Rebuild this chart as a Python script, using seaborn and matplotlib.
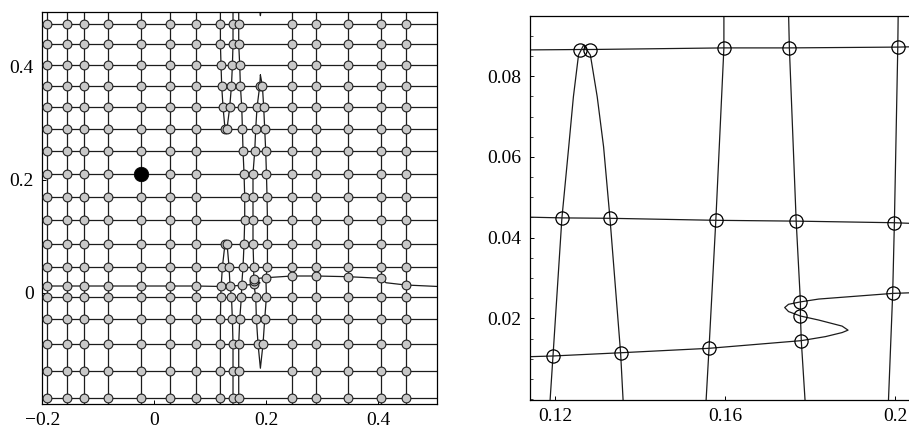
import matplotlib
matplotlib.use("Agg")
import matplotlib.pyplot as plt
import matplotlib.ticker as mticker
import numpy as np
import pandas as pd
import seaborn as sns

# ---------------- data : left panel (full mesh) ----------------
row_y = [0.4747, 0.4393, 0.4021, 0.3655, 0.3278, 0.2899, 0.2504, 0.2103, 0.1690,
         0.1278, 0.0864, 0.0457, 0.0115, -0.0074, -0.0474, -0.0912, -0.1389, -0.1873]
col_x_left = [-0.1914, -0.1550, -0.1259, -0.0825, -0.0229, 0.0289, 0.0741]
col_x_right = [0.2461, 0.2896, 0.3461, 0.4057, 0.4491]

# folded columns A..E: x position at each row (None = absent, row 12 taken from fold)
col_A = [0.1182, 0.1182, 0.1193, 0.1205, 0.1229, 0.1264, None, None, None, None,
         0.1264, 0.1218, None, 0.1188, 0.1182, 0.1182, 0.1182, 0.1182]
col_B = [0.1407, 0.1407, 0.1396, 0.1379, 0.1348, 0.1300, None, None, None, None,
         0.1300, 0.1336, None, 0.1379, 0.1396, 0.1407, 0.1407, 0.1407]
col_C = [0.1509, 0.1509, 0.1527, 0.1539, 0.1563, 0.1575, 0.1586, 0.1604, 0.1616,
         0.1616, 0.1604, 0.1586, None, 0.1557, 0.1527, 0.1509, 0.1509, 0.1509]
col_D = [None, None, None, 0.1884, 0.1836, 0.1813, 0.1795, 0.1764, 0.1764, 0.1764,
         0.1764, 0.1777, None, 0.1813, 0.1825, 0.1854, None, None]
col_E = [None, None, None, 0.1932, 0.1955, 0.1973, 0.1991, 0.2004, 0.2015, 0.2022,
         0.2022, 0.2022, None, 0.2004, 0.1973, 0.1943, None, None]
tip_AB_upper = (0.1282, 0.2858)
tip_AB_lower = (0.1282, 0.0899)
tip_DE_upper = (0.1896, 0.3850)
tip_DE_lower = (0.1896, -0.1340)
notch_x = [0.1885, 0.1896, 0.1907]
notch_y = [0.4990, 0.4900, 0.4990]

# folded row (row 12)
row12_left_y = 0.0115
row12_right_y = [0.0292, 0.0292, 0.0280, 0.0251, 0.0133]
row12_bend = (0.4140, 0.0173)
row12_edge_right_y = 0.0103
fold_x = [0.1195, 0.1354, 0.1562, 0.1779, 0.1836, 0.1875, 0.1889, 0.1875, 0.1820,
          0.1777, 0.1749, 0.1740, 0.1749, 0.1777, 0.1820, 0.1994]
fold_y = [0.0107, 0.0115, 0.0126, 0.0145, 0.0155, 0.0165, 0.0171, 0.0181, 0.0196,
          0.0206, 0.0217, 0.0227, 0.0235, 0.0241, 0.0248, 0.0262]
fold_node = [1, 1, 1, 1, 0, 0, 0, 0, 0, 1, 0, 0, 0, 1, 0, 1]
fold_col_nodes = {"A": [0], "B": [1], "C": [2], "D": [13, 9, 3], "E": [15]}

highlight = (-0.0229, 0.2103)

# ---------------- data : right panel (zoom) ----------------
zr_top_x = [0.1258, 0.1281, 0.1597, 0.1751, 0.2006]
zr_top_y = [0.0866, 0.0866, 0.0870, 0.0870, 0.0872]
zr_top_edge_y = (0.0865, 0.0873)
zr_mid_x = [0.1216, 0.1329, 0.1578, 0.1767, 0.1998]
zr_mid_y = [0.0449, 0.0448, 0.0443, 0.0441, 0.0437]
zr_mid_edge_y = (0.0451, 0.0435)
zr_low_edge_y = (0.0105, 0.0264)
zr_A_x = [0.1188, 0.1195, 0.1216, 0.1232, 0.1243, 0.1255, 0.1267]
zr_A_y = [-0.0005, 0.0107, 0.0449, 0.0625, 0.0749, 0.0852, 0.0877]
zr_B_x = [0.1267, 0.1283, 0.1299, 0.1314, 0.1329, 0.1354, 0.1360]
zr_B_y = [0.0877, 0.0852, 0.0749, 0.0625, 0.0448, 0.0115, -0.0005]
zr_C_x = [0.1597, 0.1597, 0.1578, 0.1562, 0.1555]
zr_C_y = [0.0960, 0.0870, 0.0443, 0.0126, -0.0005]
zr_D_x = [0.1749, 0.1751, 0.1767, 0.1777, 0.1777, 0.1779, 0.1788]
zr_D_y = [0.0960, 0.0870, 0.0441, 0.0241, 0.0206, 0.0145, -0.0005]
zr_E_x = [0.2007, 0.2006, 0.1998, 0.1994, 0.1984]
zr_E_y = [0.0960, 0.0872, 0.0437, 0.0262, -0.0005]

XL = (-0.2, 0.5045)
YL = (-0.1973, 0.4965)
XR = (0.1141, 0.2039)
YR = (-0.0002, 0.0949)

# ---------------- style ----------------
sns.set_theme(style="white")
plt.rcParams["font.family"] = ["Liberation Serif", "DejaVu Serif"]
plt.rcParams["axes.unicode_minus"] = True
LC = "#1c1c1c"

fig = plt.figure(figsize=(9.09, 4.29), dpi=100)
axL = fig.add_axes([0.0465, 0.0583, 0.4339, 0.9138])
axR = fig.add_axes([0.5831, 0.0676, 0.4200, 0.8951])

# ---------------- build left mesh ----------------
segs = []
nodes = []
mid_cols = {"A": col_A, "B": col_B, "C": col_C, "D": col_D, "E": col_E}


def add_seg(xs, ys):
    sid = len(segs)
    segs.append(pd.DataFrame({"x": xs, "y": ys, "seg": sid}))


# regular columns
for j, cx in enumerate(col_x_left + col_x_right):
    ys = [YL[1] + 0.01]
    xs = [cx]
    for i, ry in enumerate(row_y):
        yy = ry
        if i == 12:
            if cx in col_x_right:
                yy = row12_right_y[col_x_right.index(cx)]
            else:
                yy = row12_left_y
        xs.append(cx)
        ys.append(yy)
        nodes.append((cx, yy))
    xs.append(cx)
    ys.append(YL[0] - 0.01)
    add_seg(xs, ys)


def col_points(name, rows):
    pts = []
    arr = mid_cols[name]
    for i in rows:
        if i == 12:
            for k in fold_col_nodes[name]:
                pts.append((fold_x[k], fold_y[k]))
        elif arr[i] is not None:
            pts.append((arr[i], row_y[i]))
    return pts


# A/B upper loop
pa = col_points("A", range(0, 6))
pb = col_points("B", range(0, 6))
pts = [(pa[0][0], YL[1] + 0.01)] + pa + [tip_AB_upper] + pb[::-1] + [(pb[0][0], YL[1] + 0.01)]
add_seg([p[0] for p in pts], [p[1] for p in pts])
# A/B lower loop
pa = col_points("A", range(10, 18))
pb = col_points("B", range(10, 18))
pts = [(pa[-1][0], YL[0] - 0.01)] + pa[::-1] + [tip_AB_lower] + pb + [(pb[-1][0], YL[0] - 0.01)]
add_seg([p[0] for p in pts], [p[1] for p in pts])
# C full column
pc = col_points("C", range(18))
pts = [(pc[0][0], YL[1] + 0.01)] + pc + [(pc[-1][0], YL[0] - 0.01)]
add_seg([p[0] for p in pts], [p[1] for p in pts])
# D/E closed loop
pdd = col_points("D", range(18))
pe = col_points("E", range(18))
pts = [tip_DE_upper] + pdd + [tip_DE_lower] + pe[::-1] + [tip_DE_upper]
add_seg([p[0] for p in pts], [p[1] for p in pts])
add_seg(notch_x, notch_y)

for name in mid_cols:
    for p in col_points(name, [i for i in range(18) if i != 12]):
        nodes.append(p)
for k, f in enumerate(fold_node):
    if f:
        nodes.append((fold_x[k], fold_y[k]))

# rows
for i, ry in enumerate(row_y):
    if i == 12:
        xs = [XL[0] - 0.01] + col_x_left + fold_x + col_x_right[:4] + [row12_bend[0], col_x_right[4], XL[1] + 0.01]
        ys = ([row12_left_y] * (len(col_x_left) + 1) + fold_y + row12_right_y[:4]
              + [row12_bend[1], row12_right_y[4], row12_edge_right_y])
        add_seg(xs, ys)
        continue
    xs = list(col_x_left) + list(col_x_right)
    for arr in mid_cols.values():
        if arr[i] is not None:
            xs.append(arr[i])
    xs = sorted(xs)
    xs = [XL[0] - 0.01] + xs + [XL[1] + 0.01]
    add_seg(xs, [ry] * len(xs))

mesh = pd.concat(segs, ignore_index=True)
node_df = pd.DataFrame(nodes, columns=["x", "y"])

sns.lineplot(data=mesh, x="x", y="y", units="seg", estimator=None, sort=False,
             color=LC, lw=0.9, ax=axL, legend=False)
sns.scatterplot(data=node_df, x="x", y="y", s=40, color="#c8c8c8",
                edgecolor="#222222", linewidth=0.8, ax=axL, zorder=3, legend=False)
sns.scatterplot(x=[highlight[0]], y=[highlight[1]], s=110, color="black",
                edgecolor="black", linewidth=0.5, ax=axL, zorder=4, legend=False)

# ---------------- right panel ----------------
rsegs = []


def add_rseg(xs, ys):
    rsegs.append(pd.DataFrame({"x": xs, "y": ys, "seg": len(rsegs)}))


add_rseg([XR[0] - 0.001] + zr_top_x + [XR[1] + 0.001], [zr_top_edge_y[0]] + zr_top_y + [zr_top_edge_y[1]])
add_rseg([XR[0] - 0.001] + zr_mid_x + [XR[1] + 0.001], [zr_mid_edge_y[0]] + zr_mid_y + [zr_mid_edge_y[1]])
add_rseg([XR[0] - 0.001] + fold_x + [XR[1] + 0.001], [zr_low_edge_y[0]] + fold_y + [zr_low_edge_y[1]])
add_rseg(zr_A_x + zr_B_x[1:], zr_A_y + zr_B_y[1:])
add_rseg(zr_C_x, zr_C_y)
add_rseg(zr_D_x, zr_D_y)
add_rseg(zr_E_x, zr_E_y)
rmesh = pd.concat(rsegs, ignore_index=True)

rnodes = pd.DataFrame({
    "x": zr_top_x + zr_mid_x + [fold_x[k] for k, f in enumerate(fold_node) if f],
    "y": zr_top_y + zr_mid_y + [fold_y[k] for k, f in enumerate(fold_node) if f],
})

sns.lineplot(data=rmesh, x="x", y="y", units="seg", estimator=None, sort=False,
             color=LC, lw=0.9, ax=axR, legend=False)
axR.plot(rnodes["x"], rnodes["y"], linestyle="none", marker="o", ms=9.5,
         mfc="none", mec="black", mew=0.9, zorder=3)

# ---------------- axes styling ----------------
for ax in (axL, axR):
    ax.set_xlabel("")
    ax.set_ylabel("")
    ax.grid(False)
    for s in ax.spines.values():
        s.set_color("black")
        s.set_linewidth(0.9)
    ax.tick_params(direction="in", length=3, width=0.7, colors="black",
                   labelsize=14, pad=6, bottom=True, left=True, top=False, right=False)
    ax.set_facecolor("white")

axL.set_xlim(*XL)
axL.set_ylim(*YL)
axL.set_xticks([-0.2, 0, 0.2, 0.4])
axL.set_xticklabels(["\u22120.2", "0", "0.2", "0.4"])
axL.set_yticks([0, 0.2, 0.4])
axL.set_yticklabels(["0", "0.2", "0.4"])

axR.set_xlim(*XR)
axR.set_ylim(*YR)
axR.set_xticks([0.12, 0.16, 0.2])
axR.set_xticklabels(["0.12", "0.16", "0.2"])
axR.set_yticks([0.02, 0.04, 0.06, 0.08])
axR.set_yticklabels(["0.02", "0.04", "0.06", "0.08"])
axR.yaxis.set_minor_locator(mticker.MultipleLocator(0.005))
axR.tick_params(axis="y", which="minor", direction="in", length=2.5, width=0.6, left=True)
axR.spines["right"].set_visible(False)

fig.savefig("out.png", dpi=100, facecolor="white")
